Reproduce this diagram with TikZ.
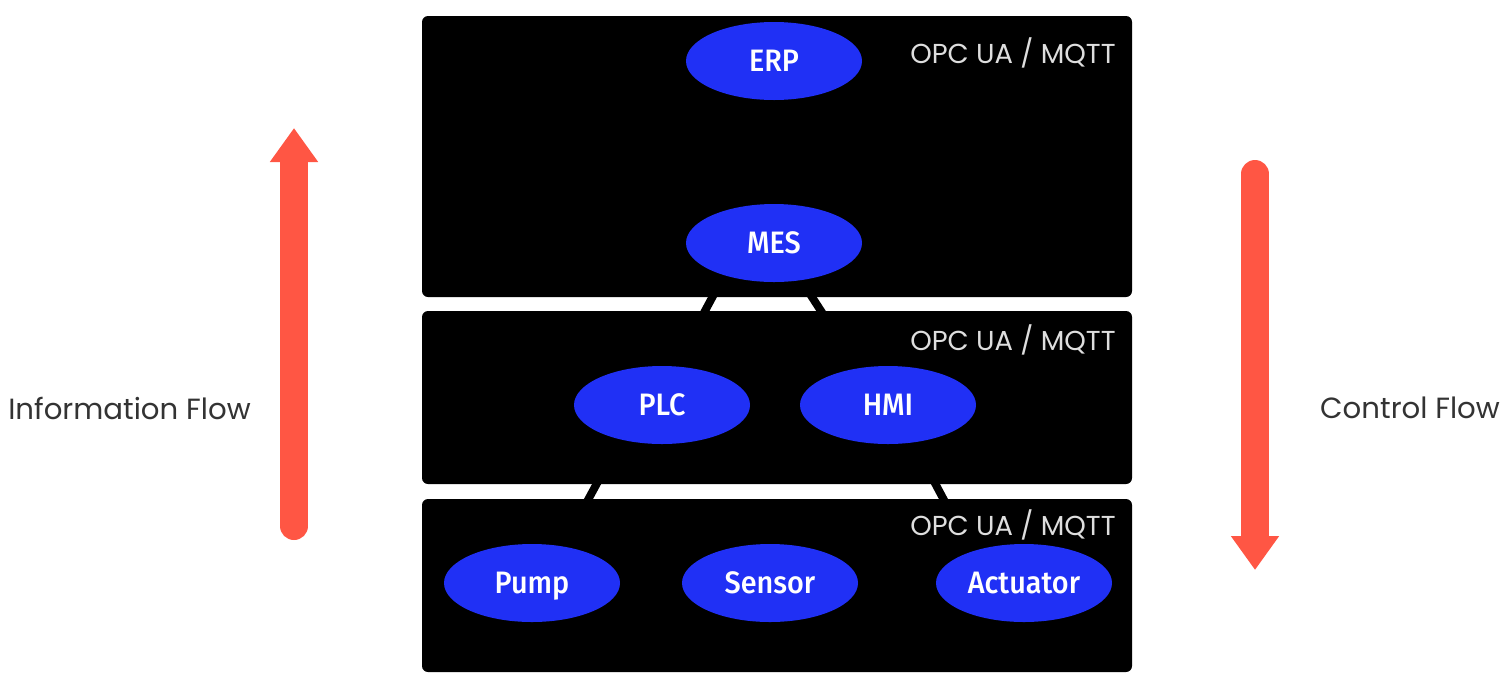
\documentclass[tikz,border=0pt]{standalone}
\usepackage{fontspec}
\usepackage{tikz}
\usetikzlibrary{arrows.meta,shapes,backgrounds}
\setmainfont{Poppins}
\newfontfamily\ellfont{Fira Sans Medium}[FakeStretch=0.93]
\definecolor{myblue}{RGB}{32,48,245}
\definecolor{myred}{RGB}{255,86,68}
\definecolor{mylight}{gray}{0.87}
\definecolor{mydark}{gray}{0.2}

\begin{document}
\begin{tikzpicture}[x=0.5pt, y=-0.5pt]
	  \tikzstyle{every node} = [ellipse, fill=myblue, text=white, inner sep=0pt, minimum width=88pt, minimum height=39pt, text height=10.5pt, text depth=0pt, font=\ellfont\fontsize{15.5}{18}\selectfont]
	  \tikzstyle{layer} = [fill=black, rounded corners=3pt]
	  \tikzstyle{proto} = [fill=none, rectangle, anchor=east, text=mylight, minimum width=0pt, minimum height=0pt, text height=, text depth=, font=\rmfamily\fontsize{13.7}{16}\selectfont]
	  \tikzstyle{flow} = [fill=none, rectangle, text=mydark, minimum width=0pt, minimum height=0pt, text height=, text depth=, font=\rmfamily\fontsize{14.6}{17}\selectfont]
	  \tikzstyle{bigarrow} = [myred, line width=14pt, line cap=round, -{Triangle[width=23pt,length=17pt]}]
	  \useasboundingbox (0,0) rectangle (1508,681);
	  % the three layers
	  \fill[layer] (422,16) rectangle (1132,297);
	  \fill[layer] (422,311) rectangle (1132,484);
	  \fill[layer] (422,499) rectangle (1132,672);
	  \foreach \y [count=\i] in {53,340,525}
	    \node[proto] (proto\i) at (1116,\y) {OPC UA / MQTT};
	  \node (ERP) at (774,61) {ERP};
	  \node (MES) at (774,243) {MES};
	  \node (PLC) at (662,405) {PLC};
	  \node (HMI) at (888,405) {HMI};
	  \node (Pump) at (532,583) {Pump};
	  \node (Sensor) at (770,583) {Sensor};
	  \node (Actuator) at (1024,583) {Actuator};
	  \begin{scope}[on background layer]
	  \draw [line width=4pt] (MES.213) -- (PLC.71);
	  \draw [line width=4pt] (MES.306) -- (HMI.129);
	  \draw [line width=4pt] (PLC.220) -- (Pump.50);
	  \draw [line width=4pt] (HMI.304) -- (Actuator.149);
	  \end{scope}
	  % flows
	  \node[flow] (info) at (129.5,408) {Information Flow};
	  \node[flow] (ctrl) at (1410,408) {Control Flow};
	  \coordinate (infotail) at (294,526);
	  \coordinate (infotip) at (294,128);
	  \coordinate (ctrltail) at (1255,174);
	  \coordinate (ctrltip) at (1255,570);
	  \draw[bigarrow] (infotail) -- (infotip);
	  \draw[bigarrow] (ctrltail) -- (ctrltip);
	\end{tikzpicture}
\end{document}
